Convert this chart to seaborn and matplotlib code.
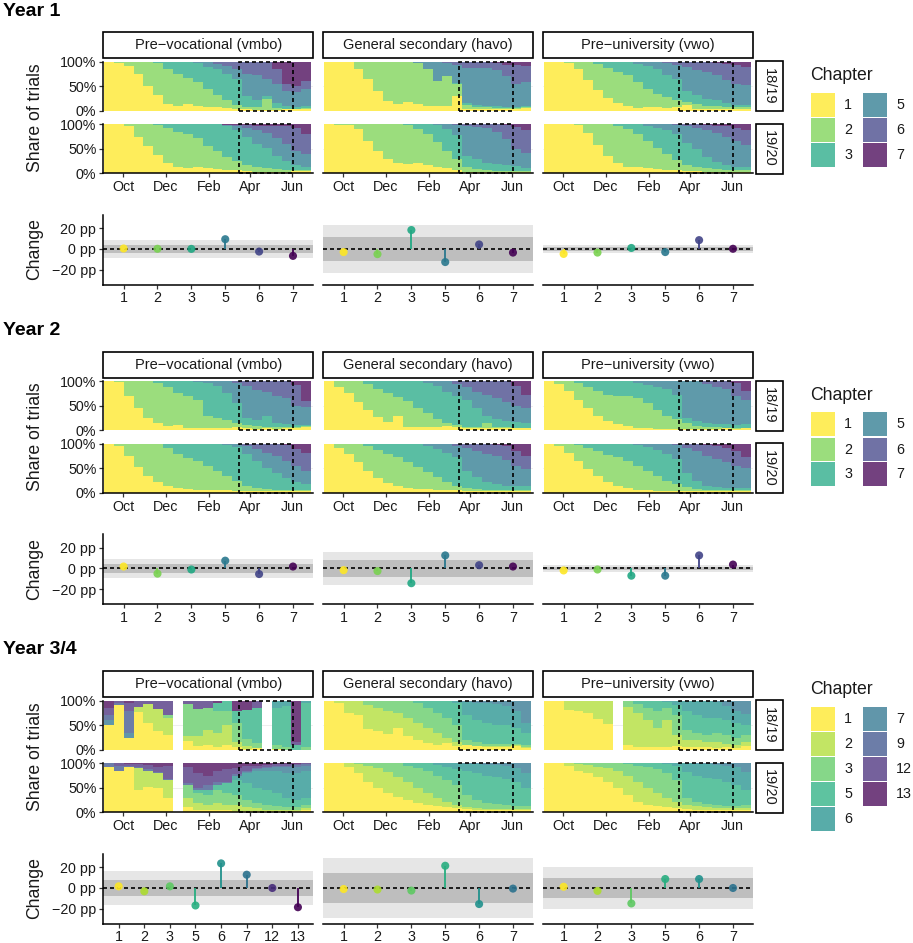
import numpy as np
import pandas as pd
import matplotlib
matplotlib.use("Agg")
import matplotlib.pyplot as plt
from matplotlib.patches import Rectangle
import seaborn as sns

# ------------------------------------------------------------------ data
YEARS = ["Year 1", "Year 2", "Year 3/4"]
TRACKS = ["Pre\u2212vocational (vmbo)", "General secondary (havo)", "Pre\u2212university (vwo)"]
COHORTS = ["18/19", "19/20"]
SEASON_START = "2018-09-01"
AXIS_RANGE = ["2018-09-02", "2019-07-01"]
DATA_RANGE = ["2018-09-03", "2019-06-28"]
N_BINS = 21
MONTH_TICKS = ["2018-10-01", "2018-12-01", "2019-02-01", "2019-04-01", "2019-06-01"]
MONTH_LABELS = ["Oct", "Dec", "Feb", "Apr", "Jun"]
CLOSURE = ["2019-03-16", "2019-06-02"]
CHAPTERS_Y12 = [1, 2, 3, 5, 6, 7]
CHAPTERS_Y34 = [1, 2, 3, 5, 6, 7, 9, 12, 13]
CHAPTERS_Y34_VMBO = [1, 2, 3, 5, 6, 7, 9, 12, 13]
CHAPTERS_Y34_OTHER = [1, 2, 3, 5, 6, 7]

# cumulative share (%) at the top of each chapter (last chapter fills to 100%)
Y1_VMBO_1819 = [
    [100, 97, 92, 75, 50, 33, 14, 10, 13, 10, 7, 7, 5, 3, 3, 2, 2, 2, 3, 3, 4],
    [100, 100, 100, 100, 100, 97, 85, 74, 66, 58, 45, 32, 22, 12, 8, 7, 25, 5, 4, 4, 5],
    [100, 100, 100, 100, 100, 100, 100, 100, 100, 98, 90, 85, 75, 65, 30, 22, 30, 15, 10, 8, 10],
    [100, 100, 100, 100, 100, 100, 100, 100, 100, 100, 100, 96, 92, 85, 75, 72, 65, 55, 40, 38, 45],
    [100, 100, 100, 100, 100, 100, 100, 100, 100, 100, 100, 100, 100, 100, 100, 100, 100, 85, 55, 50, 60],
]
Y1_VMBO_1920 = [
    [100, 100, 96, 75, 55, 38, 22, 12, 10, 12, 10, 8, 7, 6, 4, 3, 3, 3, 3, 4, 4],
    [100, 100, 100, 100, 100, 98, 92, 84, 80, 72, 55, 45, 34, 25, 18, 14, 10, 8, 7, 6, 6],
    [100, 100, 100, 100, 100, 100, 100, 100, 100, 100, 100, 100, 97, 88, 75, 60, 52, 35, 25, 17, 12],
    [100, 100, 100, 100, 100, 100, 100, 100, 100, 100, 100, 100, 99, 97, 93, 88, 82, 72, 60, 45, 40],
    [100, 100, 100, 100, 100, 100, 100, 100, 100, 100, 100, 100, 99, 98, 98, 97, 97, 97, 96, 92, 80],
]
Y1_HAVO_1819 = [
    [100, 100, 100, 85, 65, 40, 20, 14, 18, 14, 10, 9, 10, 30, 4, 3, 3, 3, 3, 4, 6],
    [100, 100, 100, 100, 100, 100, 100, 100, 100, 98, 85, 60, 70, 55, 12, 8, 7, 6, 6, 6, 7],
    [100, 100, 100, 100, 100, 100, 100, 100, 100, 98, 85, 61, 71, 57, 15, 12, 10, 9, 8, 8, 9],
    [100, 100, 100, 100, 100, 100, 100, 100, 100, 100, 100, 100, 97, 93, 88, 88, 87, 84, 70, 55, 58],
    [100, 100, 100, 100, 100, 100, 100, 100, 100, 100, 100, 100, 100, 100, 100, 100, 100, 98, 94, 93, 92],
]
Y1_HAVO_1920 = [
    [100, 99, 99, 90, 65, 45, 30, 22, 20, 22, 18, 14, 10, 6, 3, 3, 3, 3, 3, 3, 3],
    [100, 100, 100, 100, 100, 100, 100, 100, 98, 90, 80, 64, 45, 30, 12, 8, 6, 5, 5, 4, 4],
    [100, 100, 100, 100, 100, 100, 100, 100, 100, 100, 100, 98, 90, 78, 35, 30, 22, 20, 18, 15, 10],
    [100, 100, 100, 100, 100, 100, 100, 100, 100, 100, 100, 100, 100, 99, 97, 95, 92, 85, 70, 50, 42],
    [100, 100, 100, 100, 100, 100, 100, 100, 100, 100, 100, 100, 100, 100, 100, 100, 100, 100, 99, 95, 88],
]
Y1_VWO_1819 = [
    [100, 100, 97, 85, 63, 43, 26, 15, 9, 6, 7, 8, 6, 8, 12, 4, 3, 3, 3, 3, 4],
    [100, 100, 100, 100, 100, 96, 87, 80, 72, 58, 44, 35, 28, 22, 17, 13, 10, 9, 8, 7, 8],
    [100, 100, 100, 100, 100, 100, 100, 100, 100, 96, 92, 85, 72, 65, 40, 32, 25, 22, 15, 12, 12],
    [100, 100, 100, 100, 100, 100, 100, 100, 100, 100, 100, 100, 97, 94, 90, 84, 80, 72, 62, 55, 52],
    [100, 100, 100, 100, 100, 100, 100, 100, 100, 100, 100, 100, 100, 100, 100, 100, 100, 97, 95, 93, 90],
]
Y1_VWO_1920 = [
    [100, 100, 100, 98, 82, 58, 36, 22, 14, 12, 10, 8, 7, 6, 5, 4, 3, 3, 3, 3, 3],
    [100, 100, 100, 100, 100, 100, 100, 97, 90, 80, 65, 52, 40, 28, 18, 12, 10, 8, 7, 6, 6],
    [100, 100, 100, 100, 100, 100, 100, 100, 100, 100, 97, 93, 88, 80, 62, 50, 33, 24, 18, 14, 13],
    [100, 100, 100, 100, 100, 100, 100, 100, 100, 100, 100, 100, 100, 99, 96, 92, 88, 82, 75, 65, 58],
    [100, 100, 100, 100, 100, 100, 100, 100, 100, 100, 100, 100, 100, 100, 100, 100, 99, 97, 96, 93, 88],
]
Y2_VMBO_1819 = [
    [100, 98, 70, 45, 25, 15, 9, 10, 5, 4, 4, 4, 4, 6, 4, 3, 4, 3, 4, 5, 6],
    [100, 100, 100, 100, 100, 96, 88, 75, 70, 62, 30, 25, 20, 14, 10, 8, 7, 6, 6, 7, 8],
    [100, 100, 100, 100, 100, 100, 100, 100, 100, 99, 96, 90, 75, 55, 25, 20, 30, 15, 12, 10, 10],
    [100, 100, 100, 100, 100, 100, 100, 100, 100, 100, 100, 100, 100, 96, 90, 82, 78, 70, 65, 50, 48],
    [100, 100, 100, 100, 100, 100, 100, 100, 100, 100, 100, 100, 100, 100, 100, 100, 100, 100, 100, 92, 60],
]
Y2_VMBO_1920 = [
    [100, 96, 75, 52, 35, 22, 14, 10, 8, 6, 5, 5, 5, 4, 4, 3, 3, 3, 3, 3, 3],
    [100, 100, 100, 100, 100, 100, 92, 80, 70, 65, 55, 45, 35, 25, 15, 10, 8, 6, 5, 5, 5],
    [100, 100, 100, 100, 100, 100, 100, 100, 100, 100, 100, 100, 97, 93, 80, 65, 50, 40, 30, 22, 18],
    [100, 100, 100, 100, 100, 100, 100, 100, 100, 100, 100, 100, 100, 100, 95, 90, 82, 75, 65, 55, 45],
    [100, 100, 100, 100, 100, 100, 100, 100, 100, 100, 100, 100, 100, 100, 100, 100, 100, 100, 98, 90, 82],
]
Y2_HAVO_1819 = [
    [100, 88, 75, 58, 42, 27, 17, 30, 7, 7, 7, 7, 8, 7, 5, 4, 4, 4, 5, 4, 4],
    [100, 100, 100, 100, 95, 85, 76, 68, 60, 45, 35, 22, 15, 10, 7, 6, 15, 6, 6, 5, 5],
    [100, 100, 100, 100, 100, 100, 100, 100, 100, 100, 97, 90, 78, 70, 62, 45, 30, 22, 18, 16, 14],
    [100, 100, 100, 100, 100, 100, 100, 100, 100, 100, 100, 100, 100, 95, 88, 78, 72, 65, 58, 50, 45],
    [100, 100, 100, 100, 100, 100, 100, 100, 100, 100, 100, 100, 100, 100, 100, 100, 100, 100, 100, 90, 72],
]
Y2_HAVO_1920 = [
    [100, 92, 80, 62, 45, 30, 20, 14, 10, 8, 7, 6, 5, 5, 4, 3, 3, 3, 3, 3, 3],
    [100, 100, 100, 100, 96, 88, 80, 72, 62, 52, 42, 32, 22, 15, 10, 8, 6, 5, 5, 5, 5],
    [100, 100, 100, 100, 100, 100, 100, 100, 100, 100, 96, 90, 82, 72, 45, 32, 22, 18, 15, 14, 14],
    [100, 100, 100, 100, 100, 100, 100, 100, 100, 100, 100, 100, 100, 96, 92, 85, 80, 74, 66, 55, 48],
    [100, 100, 100, 100, 100, 100, 100, 100, 100, 100, 100, 100, 100, 100, 100, 100, 100, 98, 95, 85, 75],
]
Y2_VWO_1819 = [
    [100, 95, 80, 62, 45, 30, 18, 12, 8, 5, 4, 3, 3, 3, 3, 3, 3, 3, 4, 3, 4],
    [100, 100, 100, 96, 88, 80, 72, 70, 70, 65, 55, 42, 30, 22, 14, 8, 6, 6, 5, 5, 5],
    [100, 100, 100, 100, 100, 100, 100, 100, 100, 97, 92, 88, 85, 72, 25, 18, 15, 12, 12, 10, 12],
    [100, 100, 100, 100, 100, 100, 100, 100, 100, 100, 100, 100, 100, 100, 100, 100, 95, 88, 85, 70, 62],
    [100, 100, 100, 100, 100, 100, 100, 100, 100, 100, 100, 100, 100, 100, 100, 100, 100, 100, 100, 96, 80],
]
Y2_VWO_1920 = [
    [100, 96, 82, 65, 48, 34, 22, 14, 9, 6, 5, 4, 4, 3, 3, 3, 3, 3, 3, 3, 3],
    [100, 100, 100, 97, 92, 85, 78, 72, 65, 55, 45, 35, 25, 18, 12, 8, 6, 5, 5, 5, 5],
    [100, 100, 100, 100, 100, 100, 100, 100, 100, 97, 93, 88, 80, 68, 40, 25, 15, 12, 10, 10, 10],
    [100, 100, 100, 100, 100, 100, 100, 100, 100, 100, 100, 100, 100, 97, 92, 85, 75, 68, 62, 55, 50],
    [100, 100, 100, 100, 100, 100, 100, 100, 100, 100, 100, 100, 100, 100, 100, 100, 98, 96, 92, 85, 72],
]
Y34_VMBO_1819 = [
    [50, 92, 25, 78, 55, 38, 30, 0, 18, 8, 10, 5, 10, 5, 2, 3, 0, 2, 0, 0, 0],
    [50, 92, 25, 88, 93, 83, 65, 0, 28, 28, 40, 35, 50, 15, 7, 3, 0, 2, 0, 0, 0],
    [50, 92, 25, 88, 93, 83, 70, 0, 93, 83, 85, 80, 80, 55, 22, 13, 0, 10, 5, 0, 5],
    [50, 92, 25, 88, 93, 83, 70, 0, 93, 83, 85, 95, 100, 80, 82, 85, 0, 85, 90, 10, 95],
    [50, 92, 25, 88, 93, 83, 70, 0, 93, 83, 85, 95, 100, 80, 82, 85, 0, 100, 100, 10, 100],
    [60, 92, 35, 88, 93, 83, 70, 0, 93, 83, 85, 95, 100, 80, 82, 85, 0, 100, 100, 10, 100],
    [70, 95, 80, 88, 93, 83, 70, 0, 93, 83, 85, 95, 100, 80, 82, 85, 0, 100, 100, 10, 100],
    [85, 100, 95, 100, 100, 100, 100, 0, 100, 100, 100, 95, 100, 80, 82, 100, 0, 100, 100, 15, 100],
]
Y34_VMBO_1920 = [
    [93, 85, 92, 45, 52, 50, 30, 0, 10, 5, 5, 5, 5, 3, 3, 2, 2, 2, 2, 2, 5],
    [93, 85, 92, 90, 85, 80, 65, 0, 30, 20, 15, 20, 15, 15, 10, 8, 5, 5, 4, 4, 8],
    [93, 85, 92, 90, 85, 80, 65, 0, 55, 40, 35, 45, 40, 35, 25, 20, 15, 12, 10, 10, 15],
    [93, 85, 92, 90, 85, 80, 65, 0, 55, 45, 45, 55, 60, 65, 60, 50, 45, 40, 30, 25, 30],
    [93, 85, 92, 90, 85, 80, 65, 0, 55, 45, 45, 55, 60, 75, 80, 85, 85, 85, 80, 80, 85],
    [93, 85, 92, 90, 85, 80, 65, 0, 55, 45, 45, 55, 60, 75, 82, 88, 90, 92, 92, 92, 95],
    [100, 95, 95, 92, 88, 82, 68, 0, 60, 50, 55, 62, 62, 78, 85, 90, 92, 95, 95, 96, 98],
    [100, 100, 98, 98, 97, 92, 95, 0, 92, 80, 75, 85, 88, 90, 95, 95, 97, 98, 98, 99, 100],
]
Y34_HAVO_1819 = [
    [100, 95, 75, 70, 42, 38, 33, 45, 28, 20, 14, 10, 13, 7, 10, 7, 6, 6, 6, 8, 4],
    [100, 100, 100, 100, 92, 85, 80, 75, 65, 55, 45, 35, 25, 15, 10, 8, 7, 7, 7, 9, 6],
    [100, 100, 100, 100, 100, 100, 100, 100, 100, 95, 85, 75, 65, 50, 20, 15, 12, 12, 12, 12, 10],
    [100, 100, 100, 100, 100, 100, 100, 100, 100, 100, 100, 100, 100, 95, 70, 60, 55, 50, 50, 45, 35],
    [100, 100, 100, 100, 100, 100, 100, 100, 100, 100, 100, 100, 100, 100, 97, 95, 95, 93, 90, 80, 55],
]
Y34_HAVO_1920 = [
    [100, 100, 92, 80, 62, 50, 40, 32, 25, 20, 15, 12, 10, 8, 6, 5, 4, 4, 4, 4, 4],
    [100, 100, 100, 98, 95, 90, 82, 72, 62, 50, 40, 30, 22, 15, 10, 8, 7, 6, 6, 6, 6],
    [100, 100, 100, 100, 100, 100, 100, 100, 95, 90, 85, 75, 65, 55, 35, 25, 20, 18, 15, 14, 14],
    [100, 100, 100, 100, 100, 100, 100, 100, 100, 100, 100, 97, 92, 88, 85, 80, 75, 72, 68, 62, 50],
    [100, 100, 100, 100, 100, 100, 100, 100, 100, 100, 100, 100, 100, 100, 99, 98, 97, 96, 95, 90, 80],
]
Y34_VWO_1819 = [
    [100, 100, 82, 80, 75, 62, 52, 0, 10, 6, 5, 6, 6, 8, 5, 5, 5, 4, 5, 3, 8],
    [100, 100, 100, 100, 100, 100, 100, 0, 88, 75, 60, 45, 60, 30, 20, 20, 15, 15, 12, 10, 15],
    [100, 100, 100, 100, 100, 100, 100, 0, 100, 93, 85, 80, 85, 70, 40, 35, 30, 35, 30, 25, 30],
    [100, 100, 100, 100, 100, 100, 100, 0, 100, 100, 100, 100, 98, 92, 80, 70, 65, 65, 60, 55, 50],
    [100, 100, 100, 100, 100, 100, 100, 0, 100, 100, 100, 100, 100, 100, 100, 100, 100, 98, 90, 80, 72],
]
Y34_VWO_1920 = [
    [100, 100, 95, 85, 80, 72, 62, 50, 35, 22, 15, 12, 10, 8, 6, 5, 5, 4, 4, 4, 4],
    [100, 100, 100, 98, 96, 93, 90, 85, 75, 62, 50, 40, 30, 22, 15, 12, 10, 9, 8, 8, 8],
    [100, 100, 100, 100, 100, 100, 100, 100, 98, 95, 92, 88, 80, 65, 30, 22, 18, 15, 14, 14, 16],
    [100, 100, 100, 100, 100, 100, 100, 100, 100, 100, 100, 100, 98, 95, 82, 75, 70, 68, 62, 55, 45],
    [100, 100, 100, 100, 100, 100, 100, 100, 100, 100, 100, 100, 100, 100, 100, 99, 98, 97, 95, 92, 82],
]
# periods without any trials (empty bins)
Y34_VMBO_1819_EMPTY = [7, 16]
Y34_VMBO_1920_EMPTY = [7]
Y34_VWO_1819_EMPTY = [7]

# change in share during closure (percentage points)
CHG_Y1_VMBO = [0.5, 0.2, 0.1, 9.5, -2.5, -6.7]
CHG_Y1_HAVO = [-3.0, -5.0, 18.4, -12.7, 4.4, -3.5]
CHG_Y1_VWO = [-4.8, -3.5, 1.0, -3.0, 8.6, 0.2]
CHG_Y2_VMBO = [1.9, -5.0, -1.0, 7.6, -5.4, 1.9]
CHG_Y2_HAVO = [-1.6, -2.5, -14.3, 12.7, 3.2, 1.9]
CHG_Y2_VWO = [-1.9, -1.0, -7.0, -7.0, 12.7, 3.8]
CHG_Y34_VMBO_CH = [1, 2, 3, 5, 6, 7, 12, 13]
CHG_Y34_VMBO = [1.6, -3.2, 1.6, -17.0, 23.9, 12.9, 0.0, -18.7]
CHG_Y34_HAVO = [-1.0, -1.5, -2.5, 21.6, -15.6, -0.6]
CHG_Y34_VWO = [1.2, -2.8, -15.0, 8.7, 8.7, 0.0]
BAND_OUTER = [[8.7, 23.3, 4.0], [9.0, 16.0, 3.5], [16.3, 29.5, 20.0]]
BAND_INNER = [[4.3, 11.7, 2.0], [4.6, 7.8, 1.8], [8.0, 15.0, 10.0]]

# ------------------------------------------------------------------ tables
STACKS = {
    (0, 0): (Y1_VMBO_1819, Y1_VMBO_1920), (0, 1): (Y1_HAVO_1819, Y1_HAVO_1920), (0, 2): (Y1_VWO_1819, Y1_VWO_1920),
    (1, 0): (Y2_VMBO_1819, Y2_VMBO_1920), (1, 1): (Y2_HAVO_1819, Y2_HAVO_1920), (1, 2): (Y2_VWO_1819, Y2_VWO_1920),
    (2, 0): (Y34_VMBO_1819, Y34_VMBO_1920), (2, 1): (Y34_HAVO_1819, Y34_HAVO_1920), (2, 2): (Y34_VWO_1819, Y34_VWO_1920),
}
EMPTY = {(2, 0, 0): Y34_VMBO_1819_EMPTY, (2, 0, 1): Y34_VMBO_1920_EMPTY, (2, 2, 0): Y34_VWO_1819_EMPTY}
STACK_CH = {0: [CHAPTERS_Y12] * 3, 1: [CHAPTERS_Y12] * 3,
            2: [CHAPTERS_Y34_VMBO, CHAPTERS_Y34_OTHER, CHAPTERS_Y34_OTHER]}
CHANGES = {
    0: [(CHAPTERS_Y12, CHG_Y1_VMBO), (CHAPTERS_Y12, CHG_Y1_HAVO), (CHAPTERS_Y12, CHG_Y1_VWO)],
    1: [(CHAPTERS_Y12, CHG_Y2_VMBO), (CHAPTERS_Y12, CHG_Y2_HAVO), (CHAPTERS_Y12, CHG_Y2_VWO)],
    2: [(CHG_Y34_VMBO_CH, CHG_Y34_VMBO), (CHAPTERS_Y34_OTHER, CHG_Y34_HAVO), (CHAPTERS_Y34_OTHER, CHG_Y34_VWO)],
}
LEGEND_CH = [CHAPTERS_Y12, CHAPTERS_Y12, CHAPTERS_Y34]

# ------------------------------------------------------------------ helpers
t0 = pd.Timestamp(SEASON_START)
def day(s):
    return (pd.Timestamp(s) - t0).days

XMIN, XMAX = day(AXIS_RANGE[0]), day(AXIS_RANGE[1])
EDGES = np.linspace(day(DATA_RANGE[0]), day(DATA_RANGE[1]), N_BINS + 1)
BIN_LEFT = EDGES[:-1]
BIN_W = EDGES[1] - EDGES[0]
TICK_DAYS = [day(s) for s in MONTH_TICKS]
CL0, CL1 = day(CLOSURE[0]), day(CLOSURE[1])

def palettes(chapters, alpha=0.75):
    cols = plt.cm.viridis(np.linspace(0, 1, len(chapters)))[::-1]
    full = {c: tuple(cols[i][:3]) for i, c in enumerate(chapters)}
    fill = {c: tuple(alpha * np.array(cols[i][:3]) + (1 - alpha)) for i, c in enumerate(chapters)}
    return full, fill

PALS = [palettes(CHAPTERS_Y12), palettes(CHAPTERS_Y12), palettes(CHAPTERS_Y34)]

sns.set_theme(style="white")
plt.rcParams['font.family'] = ['Liberation Sans', 'DejaVu Sans']
plt.rcParams['axes.unicode_minus'] = True

W, H, DPI = 913, 943, 100
fig = plt.figure(figsize=(W / DPI, H / DPI), dpi=DPI)
fig.patch.set_facecolor('white')

def fx(x): return x / W
def fy(y): return 1 - y / H
def add_ax(x0, y0, x1, y1):
    return fig.add_axes([fx(x0), fy(y1), (x1 - x0) / W, (y1 - y0) / H])

SEC_Y = [0, 319.5, 639]
COL_X = [(103.3, 313.3), (323.3, 533.3), (543.3, 753.3)]
ROW_Y = [(61.7, 110.8), (124.2, 173.4)]
STRIP_Y = (32.3, 58.3)
CHG_Y = (214.5, 284.5)
RSTRIP_X = (756.0, 782.7)
TXT = '#1a1a1a'
TICK_FS = 10.3
AX_LW = 1.1

def base_style(ax, left, bottom):
    for sp in ax.spines.values():
        sp.set_visible(False)
    ax.spines['left'].set_visible(left)
    ax.spines['bottom'].set_visible(bottom)
    for sp in ('left', 'bottom'):
        ax.spines[sp].set_color('black')
        ax.spines[sp].set_linewidth(AX_LW)
    ax.set_facecolor('white')
    ax.tick_params(axis='both', which='both', length=3, width=0.9, color='#333333',
                   labelsize=TICK_FS, labelcolor=TXT, pad=2)
    ax.tick_params(axis='x', bottom=bottom, labelbottom=bottom)
    ax.tick_params(axis='y', left=left, labelleft=left)
    ax.grid(False)

def strip(x0, y0, x1, y1, text, rot=0):
    fig.add_artist(Rectangle((fx(x0), fy(y1)), (x1 - x0) / W, (y1 - y0) / H,
                             transform=fig.transFigure, fc='white', ec='black', lw=1.2))
    fig.text(fx((x0 + x1) / 2), fy((y0 + y1) / 2), text, ha='center', va='center',
             rotation=rot, fontsize=10.5, color=TXT)

def draw_stack(ax, tops, chapters, fill, empty):
    tops = np.asarray(tops, dtype=float)
    nb = tops.shape[1]
    lower = np.vstack([np.zeros(nb), tops])
    upper = np.vstack([tops, np.full(nb, 100.0)])
    keep = np.ones(nb, dtype=bool)
    keep[list(empty)] = False
    ax.axhline(50, color='#EBEBEB', lw=0.6, zorder=0)
    for k, ch in enumerate(chapters):
        ax.bar(BIN_LEFT[keep], (upper[k] - lower[k])[keep], width=BIN_W,
               bottom=lower[k][keep], align='edge', color=fill[ch],
               linewidth=0, antialiased=False, zorder=1)
    ax.add_patch(Rectangle((CL0, 0), CL1 - CL0, 100, fill=False, ec='black', lw=1.2,
                           ls=(0, (2.4, 1.8)), clip_on=False, zorder=5))
    ax.set_xlim(XMIN, XMAX)
    ax.set_ylim(0, 100)

def draw_change(ax, chapters, values, outer, inner, full):
    n = len(chapters)
    xs = np.arange(n)
    ax.axhspan(-outer, outer, color='#E6E6E6', lw=0, zorder=0)
    ax.axhspan(-inner, inner, color='#BEBEBE', lw=0, zorder=0.5)
    ax.axhline(0, color='black', ls=(0, (2.4, 1.8)), lw=1.2, zorder=2)
    for xi, v, ch in zip(xs, values, chapters):
        ax.plot([xi, xi], [0, v], color=full[ch], lw=1.3, zorder=3, solid_capstyle='butt')
    df = pd.DataFrame({"x": xs, "change": values, "chapter": [str(c) for c in chapters]})
    sns.scatterplot(data=df, x="x", y="change", hue="chapter",
                    palette={str(c): full[c] for c in chapters}, s=34, alpha=0.9,
                    edgecolor='none', legend=False, ax=ax, zorder=4)
    ax.set_xlim(-0.6, n - 0.4)
    ax.set_ylim(-34.5, 33.5)
    ax.set_xticks(xs)
    ax.set_xticklabels([str(c) for c in chapters])
    ax.set_xlabel("")
    ax.set_ylabel("")

# ------------------------------------------------------------------ draw
for yi, s in enumerate(SEC_Y):
    full, fill = PALS[yi]
    fig.text(fx(3), fy(s + 11), YEARS[yi], fontsize=14, fontweight='bold',
             ha='left', va='center', color='black')
    for ci, (x0, x1) in enumerate(COL_X):
        strip(x0, s + STRIP_Y[0], x1, s + STRIP_Y[1], TRACKS[ci])
        for ri, (r0, r1) in enumerate(ROW_Y):
            ax = add_ax(x0, s + r0, x1, s + r1)
            draw_stack(ax, STACKS[(yi, ci)][ri], STACK_CH[yi][ci], fill,
                       EMPTY.get((yi, ci, ri), []))
            base_style(ax, left=(ci == 0), bottom=(ri == 1))
            ax.set_yticks([0, 50, 100])
            ax.set_yticklabels(["0%", "50%", "100%"])
            ax.set_xticks(TICK_DAYS)
            ax.set_xticklabels(MONTH_LABELS)
        # change panel
        axc = add_ax(x0, s + CHG_Y[0], x1, s + CHG_Y[1])
        chs, vals = CHANGES[yi][ci]
        draw_change(axc, chs, vals, BAND_OUTER[yi][ci], BAND_INNER[yi][ci], full)
        base_style(axc, left=(ci == 0), bottom=True)
        axc.set_yticks([-20, 0, 20])
        axc.set_yticklabels(["\u221220 pp", "0 pp", "20 pp"])
    for ri, (r0, r1) in enumerate(ROW_Y):
        strip(RSTRIP_X[0], s + r0 - 0.5, RSTRIP_X[1], s + r1 + 0.5, COHORTS[ri], rot=-90)
    fig.text(fx(35), fy(s + 117.5), "Share of trials", rotation=90, fontsize=12.7,
             ha='center', va='center', color=TXT)
    fig.text(fx(35), fy(s + 249.5), "Change", rotation=90, fontsize=12.7,
             ha='center', va='center', color=TXT)
    # legend
    chs = LEGEND_CH[yi]
    rows = (len(chs) + 1) // 2
    key_top = s + 93 - (rows - 3) * 12.5
    fig.text(fx(810), fy(key_top - 17), "Chapter", fontsize=12.7, ha='left',
             va='center', color=TXT)
    for i, ch in enumerate(chs):
        col, row = divmod(i, rows)
        kx = 811 + col * 52
        ky = key_top + row * 25
        fig.add_artist(Rectangle((fx(kx), fy(ky + 23.5)), 23.5 / W, 23.5 / H,
                                 transform=fig.transFigure, fc=fill[ch], ec='none'))
        fig.text(fx(kx + 33), fy(ky + 12), str(ch), fontsize=TICK_FS, ha='left',
                 va='center', color=TXT)

fig.savefig("out.png", dpi=DPI, facecolor='white')
